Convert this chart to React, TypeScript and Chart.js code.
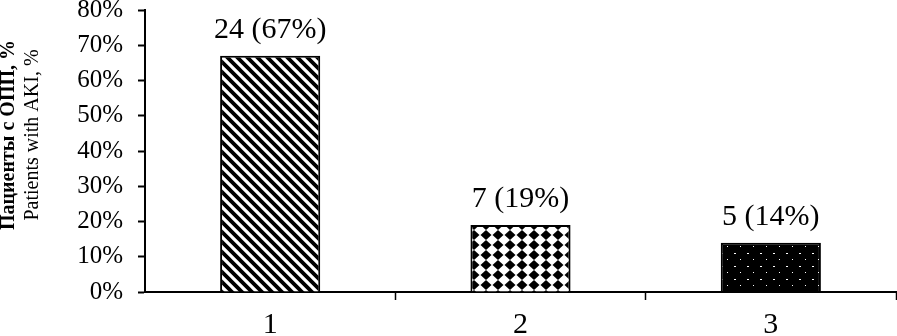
import React, { useEffect, useRef } from "react";
import { Chart, registerables } from "chart.js";

Chart.register(...registerables);

const categories = ["1", "2", "3"];
const percentValues = [67, 19, 14];
const patientCounts = [24, 7, 5];
const yTitleLines = ["Пациенты с ОПП, %", "Patients with AKI, %"];

const FONT = "'Liberation Serif', 'Times New Roman', serif";

function makePattern(kind: string): CanvasPattern | string {
  const c = document.createElement("canvas");
  const g = c.getContext("2d");
  if (!g) return "#000";
  if (kind === "stripes") {
    c.width = 10;
    c.height = 10;
    g.fillStyle = "#fff";
    g.fillRect(0, 0, 10, 10);
    g.strokeStyle = "#000";
    g.lineWidth = 3.8;
    g.beginPath();
    g.moveTo(-5, -5);
    g.lineTo(15, 15);
    g.moveTo(5, -5);
    g.lineTo(15, 5);
    g.moveTo(-5, 5);
    g.lineTo(5, 15);
    g.stroke();
  } else if (kind === "diamonds") {
    c.width = 12;
    c.height = 10;
    g.fillStyle = "#fff";
    g.fillRect(0, 0, 12, 10);
    g.fillStyle = "#000";
    g.beginPath();
    g.moveTo(6, 0);
    g.lineTo(11.5, 5);
    g.lineTo(6, 10);
    g.lineTo(0.5, 5);
    g.closePath();
    g.fill();
  } else {
    c.width = 13;
    c.height = 13;
    g.fillStyle = "#000";
    g.fillRect(0, 0, 13, 13);
    g.fillStyle = "#fff";
    g.fillRect(6, 6, 2, 1);
    g.fillRect(12, 12, 1, 1);
  }
  const p = g.createPattern(c, "repeat");
  return p || "#000";
}

const labelPlugin = {
  id: "barLabels",
  afterDatasetsDraw(chart: any) {
    const ctx = chart.ctx;
    const meta = chart.getDatasetMeta(0);
    ctx.save();
    ctx.font = `30px ${FONT}`;
    ctx.fillStyle = "#000";
    ctx.textAlign = "center";
    ctx.textBaseline = "alphabetic";
    meta.data.forEach((bar: any, i: number) => {
      ctx.fillText(`${patientCounts[i]} (${percentValues[i]}%)`, bar.x, bar.y - 18);
    });
    ctx.restore();
  },
};

const yTitlePlugin = {
  id: "yTitle",
  afterDraw(chart: any) {
    const ctx = chart.ctx;
    ctx.save();
    ctx.fillStyle = "#000";
    ctx.textAlign = "center";
    ctx.textBaseline = "middle";
    const cy = 135;
    ctx.translate(9, cy);
    ctx.rotate(-Math.PI / 2);
    ctx.font = `bold 20px ${FONT}`;
    ctx.fillText(yTitleLines[0], 0, 0);
    ctx.font = `20px ${FONT}`;
    ctx.fillText(yTitleLines[1], 0, 24);
    ctx.restore();
  },
};

export default function App() {
  const ref = useRef<HTMLCanvasElement | null>(null);
  useEffect(() => {
    if (!ref.current) return;
    const fills = [makePattern("stripes"), makePattern("diamonds"), makePattern("dots")];
    const chart = new Chart(ref.current, {
      type: "bar",
      data: {
        labels: categories,
        datasets: [
          {
            data: percentValues,
            backgroundColor: fills as any,
            borderColor: "#000",
            borderWidth: 2,
            barPercentage: 0.4,
            categoryPercentage: 1,
          },
        ],
      },
      options: {
        responsive: false,
        animation: false,
        devicePixelRatio: 1,
        layout: { padding: { left: 0, top: 10, right: 1, bottom: 0 } },
        plugins: { legend: { display: false }, tooltip: { enabled: false } },
        scales: {
          y: {
            min: 0,
            max: 80,
            ticks: {
              stepSize: 10,
              callback: (v: any) => `${v}%`,
              font: { family: FONT, size: 25 },
              color: "#000",
              padding: 15,
            },
            grid: {
              display: true,
              drawOnChartArea: false,
              drawTicks: true,
              tickLength: 7,
              tickColor: "#000",
              tickWidth: 2,
              color: "#000",
            },
            border: { display: true, color: "#000", width: 2 },
            afterFit: (s: any) => {
              s.width = 145;
              s.paddingTop = 0;
              s.paddingBottom = 0;
            },
          },
          x: {
            ticks: {
              font: { family: FONT, size: 30 },
              color: "#000",
              padding: 7,
            },
            grid: {
              offset: true,
              display: true,
              drawOnChartArea: false,
              drawTicks: true,
              tickLength: 8,
              tickWidth: 1.5,
              tickColor: (c: any) => (c.index === 0 ? "rgba(0,0,0,0)" : "#000"),
              color: "#000",
            },
            border: { display: true, color: "#000", width: 2 },
            afterFit: (s: any) => {
              s.height = 44;
              s.paddingLeft = 0;
              s.paddingRight = 0;
            },
          },
        },
      },
      plugins: [labelPlugin, yTitlePlugin],
    });
    return () => chart.destroy();
  }, []);
  return (
    <div style={{ position: "fixed", left: 0, top: 0, width: 897, height: 336, background: "#fff" }}>
      <canvas ref={ref} width={897} height={336} style={{ display: "block" }} />
    </div>
  );
}
